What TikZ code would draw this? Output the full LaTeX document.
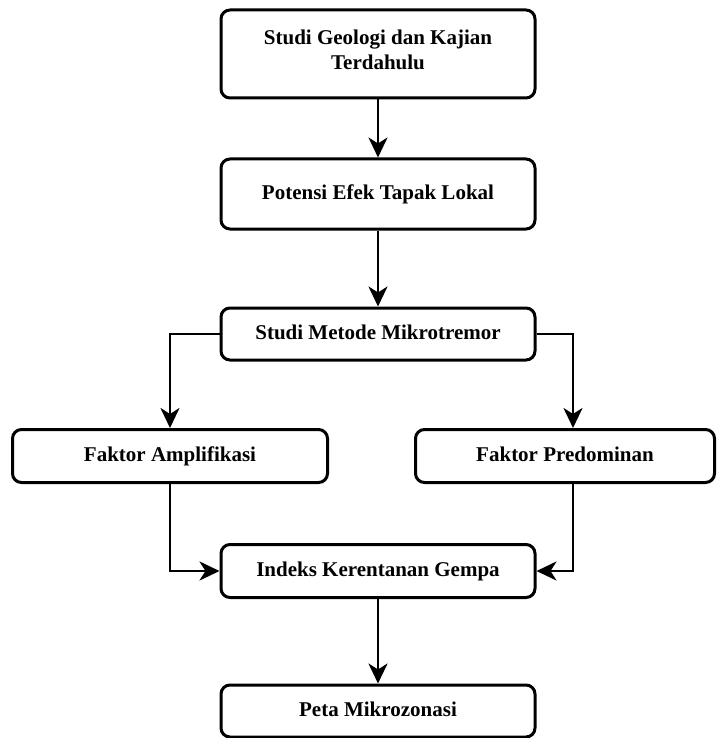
\documentclass[tikz,border=0pt]{standalone}
\usepackage{fontspec}
\setmainfont{Liberation Serif}
\usepackage{tikz}
\usetikzlibrary{arrows.meta}

\begin{document}
\begin{tikzpicture}[x=1pt, y=-1pt, >={Stealth[length=20pt, width=19pt, inset=6pt]},
    box/.style={draw, rounded corners=9pt, line width=3pt, minimum width=314pt,
        align=center, text height=14pt, text depth=4pt,
        font=\fontsize{21}{25}\selectfont\bfseries},
    flow/.style={->, line width=2.8pt}]
    \useasboundingbox (0,0) rectangle (723,738);

    % Main column
    \node[box, minimum height=88pt, text height=36pt] (geologi) at (378,54) {Studi Geologi dan Kajian\\Terdahulu};
    \node[box, minimum height=70pt] (tapak) at (378,194) {Potensi Efek Tapak Lokal};
    \node[box, minimum height=52pt] (metode) at (378,334) {Studi Metode Mikrotremor};

    % Two factors
    \node[box, minimum height=53pt, minimum width=315pt] (amplifikasi) at (170,456) {Faktor Amplifikasi};
    \node[box, minimum height=53pt, minimum width=299pt] (predominan) at (565,456) {Faktor Predominan};

    % Result
    \node[box, minimum height=53pt] (indeks) at (378,571) {Indeks Kerentanan Gempa};
    \node[box, minimum height=52pt] (peta) at (378,711) {Peta Mikrozonasi};

    % Draw the Edges
    \draw[flow] (geologi) -- (tapak);
    \draw[flow] (tapak) -- (metode);
    \draw[flow] (metode.west) -| (amplifikasi.north);
    \draw[flow] (metode.east) -| ([xshift=8pt]predominan.north);
    \draw[flow] (amplifikasi.south) |- (indeks.west);
    \draw[flow] ([xshift=8pt]predominan.south) |- (indeks.east);
    \draw[flow] (indeks) -- (peta);

\end{tikzpicture}
\end{document}
